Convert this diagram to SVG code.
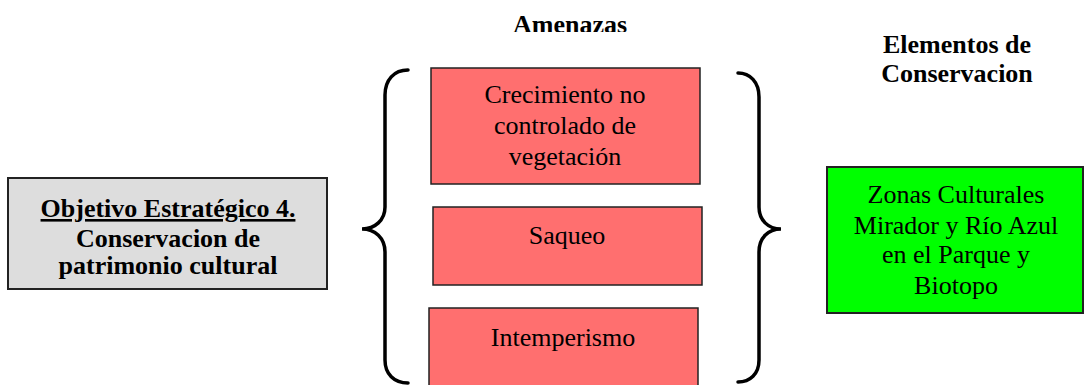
<svg xmlns="http://www.w3.org/2000/svg" width="1085" height="385" viewBox="0 0 1085 385">
<style>
.t{font-family:"Liberation Serif","Times New Roman",serif;font-size:26px;fill:#000;text-anchor:middle}
.b{font-weight:bold}
.red{fill:#FF6F6F;stroke:#222;stroke-width:1.5}
.brace{fill:none;stroke:#000;stroke-width:3.5;stroke-linecap:round}
</style>
<defs>
<clipPath id="clipTop"><rect x="0" y="0" width="1085" height="32"/></clipPath>
</defs>
<rect width="1085" height="385" fill="#fff"/>
<g id="header-amenazas" clip-path="url(#clipTop)"><text class="t b" x="570" y="33">Amenazas</text></g>
<g id="header-elementos">
<text class="t b" x="957" y="53">Elementos de</text>
<text class="t b" x="957" y="82">Conservacion</text>
</g>
<g id="objetivo">
<rect x="8" y="178" width="319" height="111" fill="#DDDDDD" stroke="#222" stroke-width="2"/>
<text class="t b" x="168" y="217" text-decoration="underline">Objetivo Estratégico 4.</text>
<text class="t b" x="168" y="247">Conservacion de</text>
<text class="t b" x="168" y="274">patrimonio cultural</text>
</g>
<g id="amenaza-1">
<rect class="red" x="431" y="68" width="269" height="116"/>
<text class="t" x="565" y="103">Crecimiento no</text>
<text class="t" x="565" y="134">controlado de</text>
<text class="t" x="565" y="165">vegetación</text>
</g>
<g id="amenaza-2">
<rect class="red" x="433" y="207" width="269" height="78"/>
<text class="t" x="567" y="244">Saqueo</text>
</g>
<g id="amenaza-3">
<rect class="red" x="429" y="308" width="269" height="90"/>
<text class="t" x="563" y="346">Intemperismo</text>
</g>
<g id="elemento">
<rect x="827" y="167" width="256" height="146" fill="#00FF00" stroke="#222" stroke-width="2"/>
<text class="t" x="956" y="203">Zonas Culturales</text>
<text class="t" x="956" y="234">Mirador y Río Azul</text>
<text class="t" x="956" y="263">en el Parque y</text>
<text class="t" x="956" y="294">Biotopo</text>
</g>
<g id="connectors">
<path class="brace" d="M408,70 C394,70 385,80 385,95 L385,207 C385,220 375,229 362,229 C375,229 385,238 385,252 L385,360 C385,374 394,383 408,383"/>
<path class="brace" d="M738,73 C750,73 759,82 759,97 L759,207 C759,220 768,229 781,229 C768,229 759,238 759,252 L759,360 C759,374 750,382 738,382"/>
</g>
</svg>
